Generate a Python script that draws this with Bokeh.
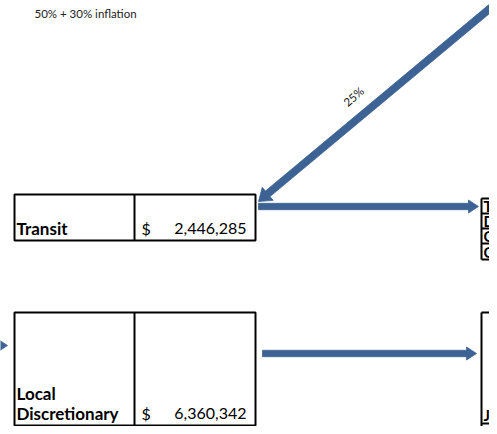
import math
from bokeh.plotting import figure
from bokeh.models import Range1d, Label
from bokeh.embed import file_html
from bokeh.resources import INLINE
from bokeh.core.properties import value

# ---- data ----
note_text = "50% + 30% inflation"
share_label = "25%"
categories = ["Transit", "Local Discretionary"]
amounts = [2446285, 6360342]
right_rows = ["T", "D", "C", "C"]
right_bottom_label = "Ju"

FONT = "Lato"
BLUE = "#3d6394"
TXT_SHIFT = 7  # svg baseline correction

p = figure(width=489, height=426, output_backend="svg", toolbar_location=None,
           x_range=Range1d(0, 489), y_range=Range1d(426, 0),
           min_border=0, outline_line_color=None)
p.axis.visible = False
p.grid.visible = False
p.background_fill_color = "white"


def arrow(x0, y0, x1, y1, w, h, L):
    dx, dy = x1 - x0, y1 - y0
    n = math.hypot(dx, dy)
    ux, uy = dx / n, dy / n
    px, py = -uy, ux
    bx, by = x1 - ux * L, y1 - uy * L
    xs = [x0 + px * w, bx + px * w, bx + px * h, x1, bx - px * h, bx - px * w, x0 - px * w]
    ys = [y0 + py * w, by + py * w, by + py * h, y1, by - py * h, by - py * w, y0 - py * w]
    p.patch(xs, ys, fill_color=BLUE, line_color=BLUE, line_width=0.8)


# arrows
arrow(505, -5, 258, 201, 3.6, 8.5, 12)
arrow(258, 206, 478, 206, 3.2, 6.5, 10)
arrow(262, 353, 476, 353, 3.2, 6.5, 10)
arrow(-20, 345, 7, 345, 3.2, 6.5, 10)

# left boxes
box_tops = [194, 312]
box_bottoms = [240, 425]
p.quad(left=[14, 14], right=[255, 255], top=box_tops, bottom=box_bottoms,
       fill_color=None, line_color="black", line_width=2)
p.segment(x0=[134, 134], y0=box_tops, x1=[134, 134], y1=box_bottoms,
          line_color="black", line_width=2)

# labels in left boxes
for cat, amt, bot in zip(categories, amounts, box_bottoms):
    words = cat.split(" ")
    base = bot - 5 - TXT_SHIFT
    ys = [base - 20 * (len(words) - 1 - i) for i in range(len(words))]
    p.text(x=[16] * len(words), y=ys, text=words, text_font=value(FONT),
           text_font_style="bold", text_font_size="17px", text_baseline="alphabetic",
           text_color="black")
    p.text(x=[141], y=[base], text=["$"], text_font=value(FONT),
           text_font_size="16px", text_baseline="alphabetic", text_color="black")
    p.text(x=[246], y=[base], text=[f"{amt:,}"], text_font=value(FONT),
           text_font_size="16px", text_baseline="alphabetic", text_align="right",
           text_color="black")

# right partial boxes
RX = 481
row_lines = [198, 213, 228, 243, 259]
p.segment(x0=[RX] * len(row_lines), y0=row_lines, x1=[500] * len(row_lines), y1=row_lines,
          line_color="black", line_width=2)
p.segment(x0=[RX], y0=[198], x1=[RX], y1=[259], line_color="black", line_width=2)
p.text(x=[RX + 2] * 4, y=[r - 1 - TXT_SHIFT for r in row_lines[1:]], text=right_rows,
       text_font=value(FONT), text_font_style="bold", text_font_size="15px",
       text_baseline="alphabetic", text_color="black")

p.segment(x0=[RX, RX, RX], y0=[312, 312, 423], x1=[500, RX, 500], y1=[312, 440, 423],
          line_color="black", line_width=2)
p.text(x=[RX + 2], y=[421 - TXT_SHIFT], text=[right_bottom_label], text_font=value(FONT),
       text_font_style="bold", text_font_size="15px", text_baseline="alphabetic",
       text_color="black")

# notes
p.add_layout(Label(x=34, y=13, text=note_text, text_font=FONT, text_font_size="11.5px",
                   text_baseline="middle", text_color="#222222"))
p.add_layout(Label(x=353, y=96, text=share_label, text_font=FONT, text_font_size="11.5px",
                   text_baseline="middle", text_align="center", angle=math.radians(41),
                   text_color="#222222"))

open("out.html", "w").write(file_html(p, INLINE))
